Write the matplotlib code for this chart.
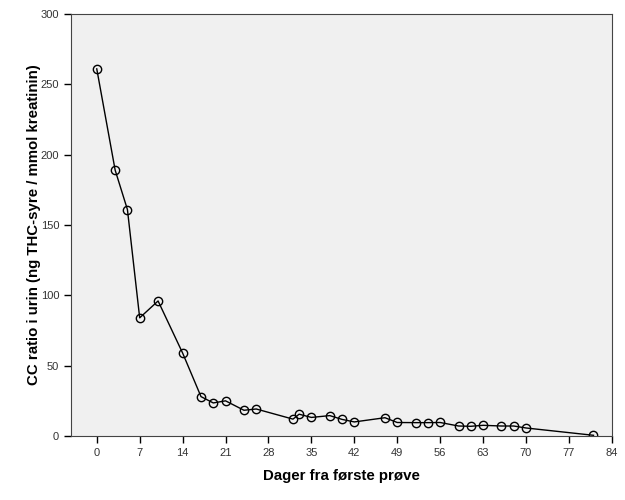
# CC ratio i urin - gjenskaping av SPSS-figur
import matplotlib
matplotlib.use("Agg")
import matplotlib.pyplot as plt

# Data
dager = [0, 3, 5, 7, 10, 14, 17, 19, 21, 24, 26, 32, 33, 35, 38, 40, 42,
         47, 49, 52, 54, 56, 59, 61, 63, 66, 68, 70, 81]
cc_ratio = [261, 189, 161, 84, 96, 59, 28, 23.5, 25, 18.3, 19.2, 12, 15.5,
            13.2, 14.5, 11.8, 10, 13, 9.6, 9.5, 9.5, 9.6, 7.1, 6.9, 7.6,
            7.1, 7.1, 5.7, 0.5]
x_ticks = list(range(0, 85, 7))
y_ticks = list(range(0, 301, 50))

plt.rcParams['font.family'] = ['Liberation Sans', 'DejaVu Sans']

fig = plt.figure(figsize=(6.25, 5), dpi=100)
ax = fig.add_axes([0.1136, 0.128, 0.979 - 0.1136, 0.972 - 0.128])
ax.set_facecolor('#f0f0f0')

ax.plot(dager, cc_ratio, color='black', linewidth=1.0, marker='o',
        markersize=6, markerfacecolor='none', markeredgecolor='black',
        markeredgewidth=1.0)

ax.set_xlim(-4.2, 84)
ax.set_ylim(0, 300)
ax.set_xticks(x_ticks)
ax.set_yticks(y_ticks)
ax.tick_params(direction='out', length=5, width=1, labelsize=8,
               colors='black', labelcolor='#333333')
for s in ax.spines.values():
    s.set_color('#444444')

ax.set_xlabel("Dager fra første prøve", fontsize=10.8, fontweight='bold', labelpad=8)
ax.set_ylabel("CC ratio i urin (ng THC-syre / mmol kreatinin)", fontsize=10.8,
              fontweight='bold', labelpad=0)

fig.savefig("out.png", dpi=100)
